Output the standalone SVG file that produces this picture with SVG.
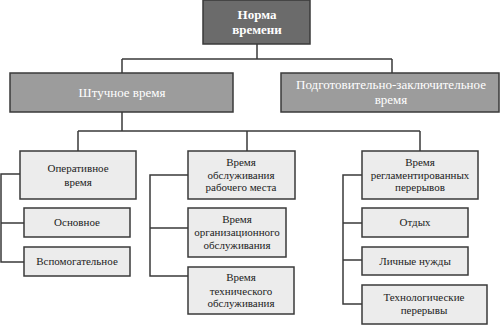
<svg xmlns="http://www.w3.org/2000/svg" width="500" height="325" viewBox="0 0 500 325">
<style>
.b{stroke:#3a3a3a;stroke-width:1.5}
.l1{fill:#6b6b6b}
.l2{fill:#9c9c9c}
.l3{fill:#ececec}
.c{fill:none;stroke:#3a3a3a;stroke-width:1.5}
</style>
<rect width="500" height="325" fill="#fff"/>
<g id="connectors">
<path class="c" d="M257 44V59M122 59H392M122 59V73M392 59V73"/>
<path class="c" d="M122 112V131M78 131H420M78 131V151M247 131V151M420 131V151"/>
<path class="c" d="M20 174H1V262H24M1 223H24"/>
<path class="c" d="M188 175H150V276H188M150 228H188"/>
<path class="c" d="M362 175H343V304H362M343 223H362M343 260H362"/>
</g>
<g id="norma"><rect class="b l1" x="203" y="0" width="107" height="44"/><text font-family="Liberation Serif" font-size="13" font-weight="bold" fill="#fff" text-anchor="middle" x="257" y="19">Норма</text><text font-family="Liberation Serif" font-size="13" font-weight="bold" fill="#fff" text-anchor="middle" x="257" y="34">времени</text></g>
<g id="shtuchnoe"><rect class="b l2" x="10" y="73" width="223" height="39"/><text font-family="Liberation Serif" font-size="13" fill="#fff" text-anchor="middle" x="122" y="97">Штучное время</text></g>
<g id="podgot"><rect class="b l2" x="281" y="73" width="218" height="39"/><text font-family="Liberation Serif" font-size="13" fill="#fff" text-anchor="middle" x="391" y="89">Подготовительно-заключительное</text><text font-family="Liberation Serif" font-size="13" fill="#fff" text-anchor="middle" x="391" y="104">время</text></g>
<g id="operativnoe"><rect class="b l3" x="20" y="151" width="116" height="48"/><text font-family="Liberation Serif" font-size="11" fill="#222" text-anchor="middle" x="78" y="172">Оперативное</text><text font-family="Liberation Serif" font-size="11" fill="#222" text-anchor="middle" x="78" y="186">время</text></g>
<g id="osnovnoe"><rect class="b l3" x="24" y="208" width="106" height="29"/><text font-family="Liberation Serif" font-size="11" fill="#222" text-anchor="middle" x="77" y="226">Основное</text></g>
<g id="vspomog"><rect class="b l3" x="24" y="247" width="106" height="29"/><text font-family="Liberation Serif" font-size="11" fill="#222" text-anchor="middle" x="77" y="265">Вспомогательное</text></g>
<g id="obsl-rab"><rect class="b l3" x="188" y="151" width="107" height="48"/><text font-family="Liberation Serif" font-size="11" fill="#222" text-anchor="middle" x="241" y="166">Время</text><text font-family="Liberation Serif" font-size="11" fill="#222" text-anchor="middle" x="241" y="179">обслуживания</text><text font-family="Liberation Serif" font-size="11" fill="#222" text-anchor="middle" x="241" y="191">рабочего места</text></g>
<g id="org-obsl"><rect class="b l3" x="188" y="208" width="98" height="49"/><text font-family="Liberation Serif" font-size="11" fill="#222" text-anchor="middle" x="237" y="223">Время</text><text font-family="Liberation Serif" font-size="11" fill="#222" text-anchor="middle" x="237" y="236">организационного</text><text font-family="Liberation Serif" font-size="11" fill="#222" text-anchor="middle" x="237" y="249">обслуживания</text></g>
<g id="tech-obsl"><rect class="b l3" x="188" y="267" width="106" height="47"/><text font-family="Liberation Serif" font-size="11" fill="#222" text-anchor="middle" x="241" y="281">Время</text><text font-family="Liberation Serif" font-size="11" fill="#222" text-anchor="middle" x="241" y="294.5">технического</text><text font-family="Liberation Serif" font-size="11" fill="#222" text-anchor="middle" x="241" y="307">обслуживания</text></g>
<g id="reglament"><rect class="b l3" x="362" y="151" width="116" height="48"/><text font-family="Liberation Serif" font-size="11" fill="#222" text-anchor="middle" x="420" y="166">Время</text><text font-family="Liberation Serif" font-size="11" fill="#222" text-anchor="middle" x="420" y="179">регламентированных</text><text font-family="Liberation Serif" font-size="11" fill="#222" text-anchor="middle" x="420" y="191">перерывов</text></g>
<g id="otdyh"><rect class="b l3" x="362" y="208" width="106" height="29"/><text font-family="Liberation Serif" font-size="11" fill="#222" text-anchor="middle" x="415" y="226">Отдых</text></g>
<g id="lichnye"><rect class="b l3" x="362" y="247" width="106" height="28"/><text font-family="Liberation Serif" font-size="11" fill="#222" text-anchor="middle" x="415" y="265">Личные нужды</text></g>
<g id="tehnolog"><rect class="b l3" x="362" y="285" width="125" height="39"/><text font-family="Liberation Serif" font-size="11" fill="#222" text-anchor="middle" x="424" y="301">Технологические</text><text font-family="Liberation Serif" font-size="11" fill="#222" text-anchor="middle" x="424" y="314">перерывы</text></g>
</svg>
